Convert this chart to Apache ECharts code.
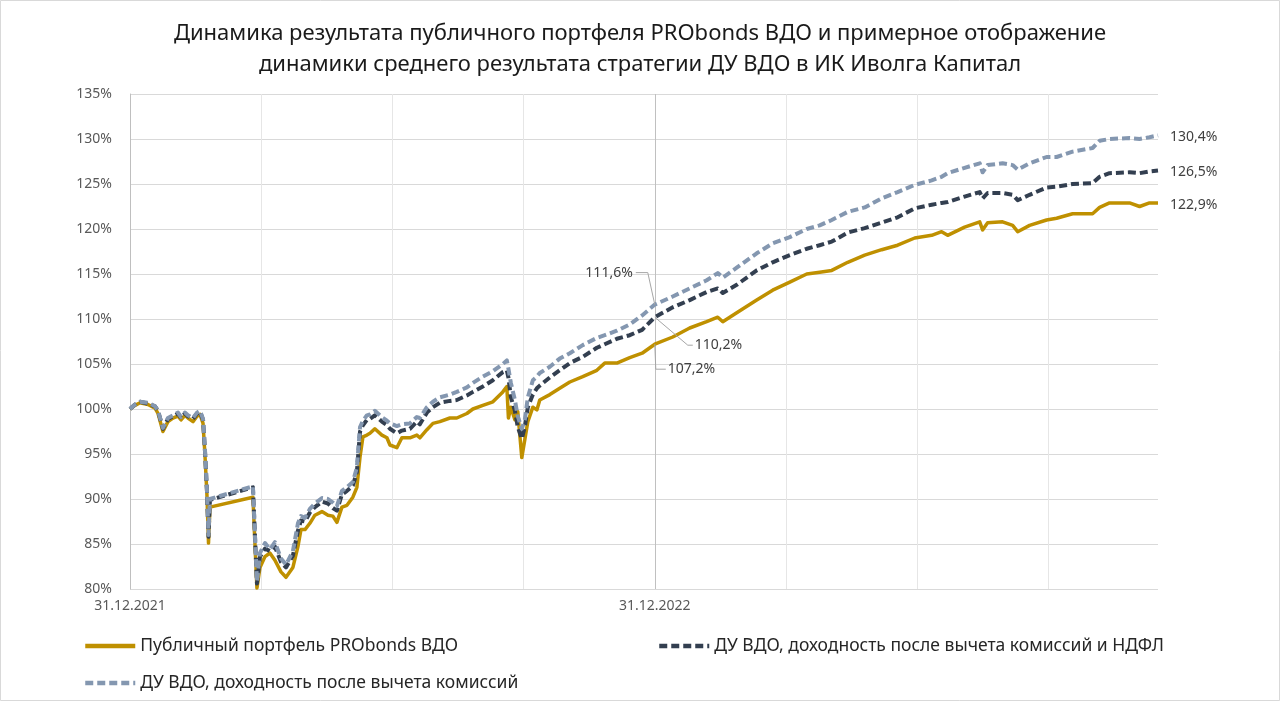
<!DOCTYPE html>
<html>
<head>
<meta charset="utf-8">
<script src="https://cdn.jsdelivr.net/npm/echarts@6/dist/echarts.min.js"></script>
<style>
html,body{margin:0;padding:0;background:#fff;}
#chart{width:1280px;height:701px;}
</style>
</head>
<body>
<div id="chart"></div>
<script>
// x = days since 31.12.2021
const days = [0,3.5,7.0,12.5,17.4,19.5,22.9,26.4,29.9,33.4,35.5,38.2,40.3,43.8,46.6,48.7,50.8,52.1,53.5,54.6,55.6,56.7,
85.5,86.9,88.3,90.4,93.9,97.3,100.8,105.0,108.5,113.3,116.8,118.9,121.7,125.1,128.6,133.5,137.7,141.1,143.9,147.4,150.9,155.0,157.8,
160.0,162.0,164.8,166.9,170.3,175.2,178.7,180.8,185.6,189.1,194.7,199.5,201.6,206.5,210.7,215.5,222.5,227.3,234.3,238.5,245.4,252.4,
259.3,262.1,263.2,264.9,267.7,269.7,272.5,274.6,276.7,280.2,283.0,285.0,292.0,298.9,305.9,314.9,324.7,330.2,338.6,347.6,356.2,365,
377.5,389.3,401.1,408.8,412.3,422.0,435.9,447.0,458.9,470.7,479.7,488.1,499.2,511.0,522.8,533.9,545.8,557.6,564.5,568.7,580.5,591.0,
593.0,596.5,606.9,613.9,617.4,625.7,637.5,644.5,655.6,669.5,674.4,681.3,695.2,702.2,709.1,715];

const probonds = [100.0,100.4,100.7,100.5,100.1,99.5,97.5,98.6,99.0,99.2,98.8,99.3,99.0,98.6,99.2,99.4,98.4,95.0,90.5,85.1,89.1,89.2,
90.2,85.0,80.1,82.4,83.6,84.0,83.2,81.9,81.3,82.4,84.7,86.6,86.6,87.3,88.2,88.6,88.2,88.1,87.4,89.1,89.3,90.2,91.3,
94.7,96.9,97.1,97.3,97.8,97.1,96.8,96.0,95.7,96.8,96.8,97.1,96.8,97.7,98.4,98.6,99.0,99.0,99.5,100.0,100.4,100.8,
101.9,102.5,99.0,100.2,98.8,99.7,94.6,96.6,98.6,100.2,99.9,101.0,101.6,102.3,103.0,103.6,104.3,105.1,105.1,105.7,106.2,107.2,
108.0,109.0,109.7,110.2,109.7,110.7,112.1,113.2,114.1,115.0,115.2,115.4,116.3,117.1,117.7,118.2,119.0,119.3,119.7,119.3,120.2,120.8,
119.9,120.7,120.8,120.4,119.7,120.4,121.0,121.2,121.7,121.7,122.4,122.9,122.9,122.5,122.9,122.9];

const duNet = [100.0,100.5,100.8,100.6,100.3,99.8,97.8,98.9,99.2,99.5,99.0,99.5,99.2,98.9,99.5,99.7,98.8,95.5,91.0,85.8,89.9,90.0,
91.3,86.0,80.6,83.6,84.5,84.2,84.7,83.0,82.4,83.7,86.5,87.6,87.5,88.5,89.1,89.7,89.5,89.0,88.7,90.5,90.9,91.5,93.0,
97.5,98.2,98.8,98.9,99.3,98.6,98.2,97.8,97.3,97.6,97.8,98.6,98.3,99.6,100.2,100.7,100.9,101.0,101.5,101.9,102.5,103.2,
104.1,104.3,103.5,101.3,99.8,98.0,96.7,98.0,100.2,101.6,102.3,102.6,103.5,104.3,105.1,105.8,106.8,107.2,107.8,108.2,108.8,110.2,
111.3,112.1,113.0,113.4,112.9,113.8,115.4,116.3,117.1,117.8,118.2,118.6,119.6,120.1,120.7,121.3,122.3,122.7,122.9,123.0,123.6,124.1,
123.4,124.0,124.0,123.8,123.2,123.8,124.6,124.7,125.0,125.1,125.8,126.2,126.3,126.2,126.4,126.5];

const duGross = [100.0,100.5,100.8,100.7,100.3,99.8,97.9,99.0,99.3,99.6,99.1,99.6,99.3,99.0,99.6,99.8,98.9,95.6,91.0,86.0,90.0,90.1,
91.4,86.0,80.8,84.0,85.1,84.4,85.2,83.4,82.7,84.2,87.3,88.1,87.9,88.9,89.5,90.1,90.0,89.6,89.2,90.9,91.3,91.9,93.5,
98.0,98.7,99.3,99.4,99.8,99.1,98.7,98.4,98.1,98.3,98.4,99.1,99.0,100.2,100.8,101.3,101.6,101.9,102.4,102.9,103.6,104.2,
105.0,105.4,104.5,102.9,101.0,99.2,97.8,98.8,101.3,103.2,103.6,104.0,104.7,105.6,106.2,107.1,107.9,108.2,108.7,109.4,110.4,111.6,
112.5,113.4,114.3,115.1,114.6,115.7,117.3,118.4,119.1,120.0,120.4,121.0,121.9,122.4,123.4,124.1,124.9,125.4,125.8,126.2,126.8,127.3,
126.3,127.1,127.3,127.1,126.6,127.3,128.0,128.0,128.6,129.0,129.8,130.0,130.1,130.0,130.2,130.4];

const seriesNames = ['Публичный портфель PRObonds ВДО','ДУ ВДО, доходность после вычета комиссий и НДФЛ','ДУ ВДО, доходность после вычета комиссий'];
const endLabels = ['122,9%','126,5%','130,4%'];
const xTickLabels = {0:'31.12.2021', 365:'31.12.2022'};
const yearEndDay = 365;
const yearEndValues = [107.2, 110.2, 111.6];
const yearEndLabels = ['107,2%','110,2%','111,6%'];
const titleText = 'Динамика результата публичного портфеля PRObonds ВДО и примерное отображение\nдинамики среднего результата стратегии ДУ ВДО в ИК Иволга Капитал';

const FONT = 'Noto Sans';
const colors = ['#BF9000','#333F50','#8497B0'];
const toPairs = arr => days.map((d,i)=>[d, arr[i]]);

const chart = echarts.init(document.getElementById('chart'), null, {renderer:'canvas'});

const vColors = [];
for (let i=0;i<10;i++) vColors.push(i===4 ? '#c0c0c0' : '#e6e6e6');
vColors[8] = 'rgba(0,0,0,0)';

function mkSeries(i, data){
  return {
    name: seriesNames[i], type:'line', data: toPairs(data), showSymbol:false, symbol:'none',
    animation:false, z: 2+i,
    lineStyle:{color:colors[i], width: i===0?3.5:4, type: i===0?'solid':[8,4], cap:'butt', join:'round'},
    itemStyle:{color:colors[i]},
    endLabel:{show:true, formatter: endLabels[i], color:'#404040', fontSize:14, fontFamily:FONT, distance:12, offset:[0,2]}
  };
}

function mkLegend(i, left, top){
  return {data:[seriesNames[i]], left:left, top:top, itemWidth:50, itemHeight:14,
    itemStyle:{opacity:0}, lineStyle:{width:4.5},
    textStyle:{fontFamily:FONT, fontSize:17.5, color:'#262626'}};
}

const option = {
  backgroundColor:'#fff',
  animation:false,
  title:{text:titleText, left:'center', top:13, textStyle:{fontFamily:FONT, fontSize:22, fontWeight:'normal', color:'#1a1a1a', lineHeight:31}},
  grid:{left:130, right:122, top:94, bottom:112},
  xAxis:{type:'value', min:0, max:715, interval:91.25,
    axisLine:{show:false}, axisTick:{show:false},
    splitLine:{show:true, lineStyle:{color:vColors, width:1}},
    axisLabel:{color:'#595959', fontSize:14, fontFamily:FONT, margin:10, showMaxLabel:false,
      formatter: v => xTickLabels[Math.round(v)] || ''}
  },
  yAxis:{type:'value', min:80, max:135, interval:5,
    axisLine:{show:true, lineStyle:{color:'#bfbfbf'}}, axisTick:{show:false},
    splitLine:{lineStyle:{color:'#d9d9d9'}},
    axisLabel:{color:'#595959', fontSize:14, fontFamily:FONT, margin:18, formatter: v => v+'%'}
  },
  legend:[mkLegend(0, 78, 632), mkLegend(1, 652, 632), mkLegend(2, 78, 669)],
  series:[mkSeries(0, probonds), mkSeries(1, duNet), mkSeries(2, duGross)]
};
chart.setOption(option);

// annotations at 31.12.2022 with leader lines
const P = yearEndValues.map(v => chart.convertToPixel({gridIndex:0}, [yearEndDay, v]));
const lc = '#a6a6a6';
const tStyle = {fontFamily:FONT, fontSize:14, fill:'#404040'};
const g = [
  {type:'rect', shape:{x:0.5,y:0.5,width:1279,height:700}, style:{fill:null, stroke:'#d9d9d9', lineWidth:1}, silent:true},
  {type:'polyline', shape:{points:[[P[2][0],P[2][1]],[P[2][0]-7,P[2][1]-32],[P[2][0]-19,P[2][1]-32]]}, style:{stroke:lc, lineWidth:1, fill:null}, z:20},
  {type:'text', x:P[2][0]-22, y:P[2][1]-32, style:Object.assign({text:yearEndLabels[2], align:'right', verticalAlign:'middle'}, tStyle), z:20},
  {type:'polyline', shape:{points:[[P[1][0],P[1][1]],[P[1][0]+33,P[1][1]+28],[P[1][0]+38,P[1][1]+28]]}, style:{stroke:lc, lineWidth:1, fill:null}, z:20},
  {type:'text', x:P[1][0]+40, y:P[1][1]+28, style:Object.assign({text:yearEndLabels[1], align:'left', verticalAlign:'middle'}, tStyle), z:20},
  {type:'polyline', shape:{points:[[P[0][0],P[0][1]],[P[0][0]+1,P[0][1]+25],[P[0][0]+11,P[0][1]+25]]}, style:{stroke:lc, lineWidth:1, fill:null}, z:20},
  {type:'text', x:P[0][0]+13, y:P[0][1]+25, style:Object.assign({text:yearEndLabels[0], align:'left', verticalAlign:'middle'}, tStyle), z:20}
];
chart.setOption({graphic:g});
</script>
</body>
</html>
